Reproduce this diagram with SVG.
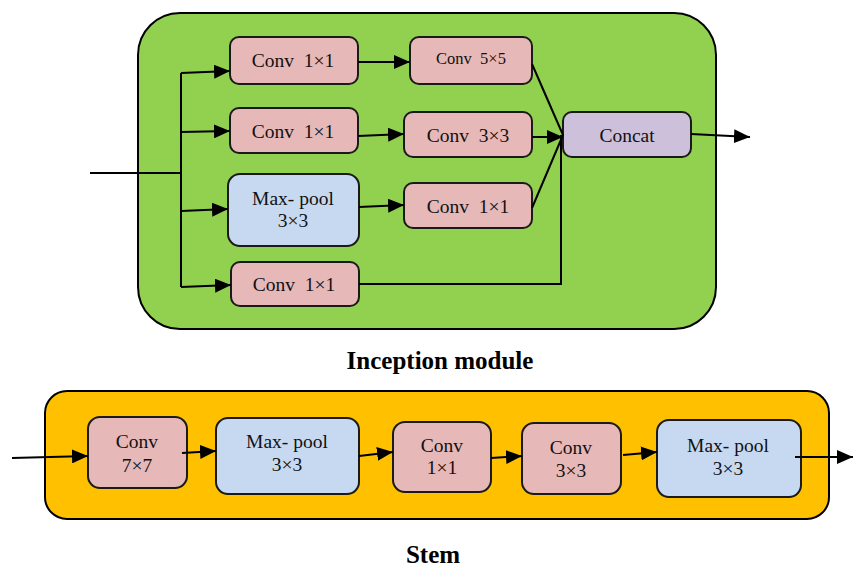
<svg xmlns="http://www.w3.org/2000/svg" width="853" height="569" viewBox="0 0 853 569" xml:space="preserve">
  <defs>
    <marker id="arrow" markerUnits="userSpaceOnUse" markerWidth="16" markerHeight="14" refX="16" refY="7" orient="auto">
      <path d="M0,0 L16,7 L0,14 z" fill="#000"/>
    </marker>
    <style>
      .panel { stroke: #000; stroke-width: 2; }
      .box { stroke: #1a1a1a; stroke-width: 2; }
      .conv { fill: #e6b8b7; }
      .pool { fill: #c6d9f0; }
      .cat { fill: #ccc0da; }
      .lbl { font-family: "Liberation Serif", "DejaVu Serif", serif; font-size: 19.5px; fill: #111; text-anchor: middle; white-space: pre; }
      .sm { font-size: 16.5px; }
      .title { font-family: "Liberation Serif", "DejaVu Serif", serif; font-size: 25px; font-weight: bold; fill: #000; text-anchor: middle; }
      .wire { fill: none; stroke: #000; stroke-width: 2; }
      .arr { marker-end: url(#arrow); }
    </style>
  </defs>

  <!-- Inception module panel -->
  <rect class="panel" x="138" y="13" width="578" height="316" rx="42" fill="#92d050"/>
  <text class="title" x="440" y="369">Inception module</text>

  <!-- Stem panel -->
  <rect class="panel" x="45" y="391" width="784" height="128" rx="22" fill="#ffc000"/>
  <text class="title" x="433" y="563">Stem</text>

  <!-- Inception module nodes -->
  <g id="inc-conv1x1-a">
    <rect class="box conv" x="230" y="37" width="128" height="47" rx="9"/>
    <text class="lbl" x="293" y="67">Conv  1×1</text>
  </g>
  <g id="inc-conv5x5">
    <rect class="box conv" x="410" y="37" width="122" height="47" rx="9"/>
    <text class="lbl sm" x="471" y="64">Conv  5×5</text>
  </g>
  <g id="inc-conv1x1-b">
    <rect class="box conv" x="230" y="108" width="128" height="45" rx="9"/>
    <text class="lbl" x="293" y="138">Conv  1×1</text>
  </g>
  <g id="inc-conv3x3">
    <rect class="box conv" x="404" y="112" width="128" height="45" rx="9"/>
    <text class="lbl" x="468" y="142">Conv  3×3</text>
  </g>
  <g id="inc-concat">
    <rect class="box cat" x="563" y="112" width="128" height="45" rx="9"/>
    <text class="lbl" x="627" y="142">Concat</text>
  </g>
  <g id="inc-maxpool">
    <rect class="box pool" x="228" y="174" width="131" height="72" rx="12"/>
    <text class="lbl" x="293" y="205">Max- pool</text>
    <text class="lbl" x="293" y="227">3×3</text>
  </g>
  <g id="inc-conv1x1-c">
    <rect class="box conv" x="404" y="183" width="128" height="45" rx="9"/>
    <text class="lbl" x="468" y="213">Conv  1×1</text>
  </g>
  <g id="inc-conv1x1-d">
    <rect class="box conv" x="231" y="262" width="128" height="44" rx="9"/>
    <text class="lbl" x="294" y="291">Conv  1×1</text>
  </g>

  <!-- Stem nodes -->
  <g id="stem-conv7x7">
    <rect class="box conv" x="88" y="417" width="99" height="71" rx="12"/>
    <text class="lbl" x="137" y="448">Conv</text>
    <text class="lbl" x="137" y="472">7×7</text>
  </g>
  <g id="stem-maxpool-a">
    <rect class="box pool" x="216" y="418" width="143" height="76" rx="12"/>
    <text class="lbl" x="287" y="448">Max- pool</text>
    <text class="lbl" x="287" y="471">3×3</text>
  </g>
  <g id="stem-conv1x1">
    <rect class="box conv" x="393" y="422" width="98" height="70" rx="12"/>
    <text class="lbl" x="442" y="452">Conv</text>
    <text class="lbl" x="442" y="474">1×1</text>
  </g>
  <g id="stem-conv3x3">
    <rect class="box conv" x="522" y="423" width="99" height="71" rx="12"/>
    <text class="lbl" x="571" y="454">Conv</text>
    <text class="lbl" x="571" y="477">3×3</text>
  </g>
  <g id="stem-maxpool-b">
    <rect class="box pool" x="657" y="420" width="144" height="77" rx="12"/>
    <text class="lbl" x="728" y="452">Max- pool</text>
    <text class="lbl" x="728" y="475">3×3</text>
  </g>

  <!-- Connectors -->
  <g id="connectors">
    <!-- inception input and fan-out trunk -->
    <path class="wire" d="M90,173 L181,173"/>
    <path class="wire" d="M181,73 L181,287"/>
    <path class="wire arr" d="M181,73 L230,71"/>
    <path class="wire arr" d="M181,132 L230,131"/>
    <path class="wire arr" d="M181,211 L228,209"/>
    <path class="wire arr" d="M181,287 L231,285"/>
    <!-- second stage -->
    <path class="wire arr" d="M358,62 L410,62"/>
    <path class="wire arr" d="M358,136 L404,134"/>
    <path class="wire arr" d="M359,207 L404,205"/>
    <!-- merge into concat -->
    <path class="wire" d="M532,64 L563,135"/>
    <path class="wire arr" d="M532,137 L563,137"/>
    <path class="wire" d="M532,208 L563,135"/>
    <path class="wire" d="M359,284 L561,284 L561,135"/>
    <path class="wire arr" d="M691,134 L750,137"/>
    <!-- stem chain -->
    <path class="wire arr" d="M12,458 L88,456"/>
    <path class="wire arr" d="M182,453 L216,451"/>
    <path class="wire arr" d="M359,456 L393,452"/>
    <path class="wire arr" d="M491,458 L522,456"/>
    <path class="wire arr" d="M623,455 L657,452"/>
    <path class="wire arr" d="M795,457 L853,457"/>
  </g>
</svg>
